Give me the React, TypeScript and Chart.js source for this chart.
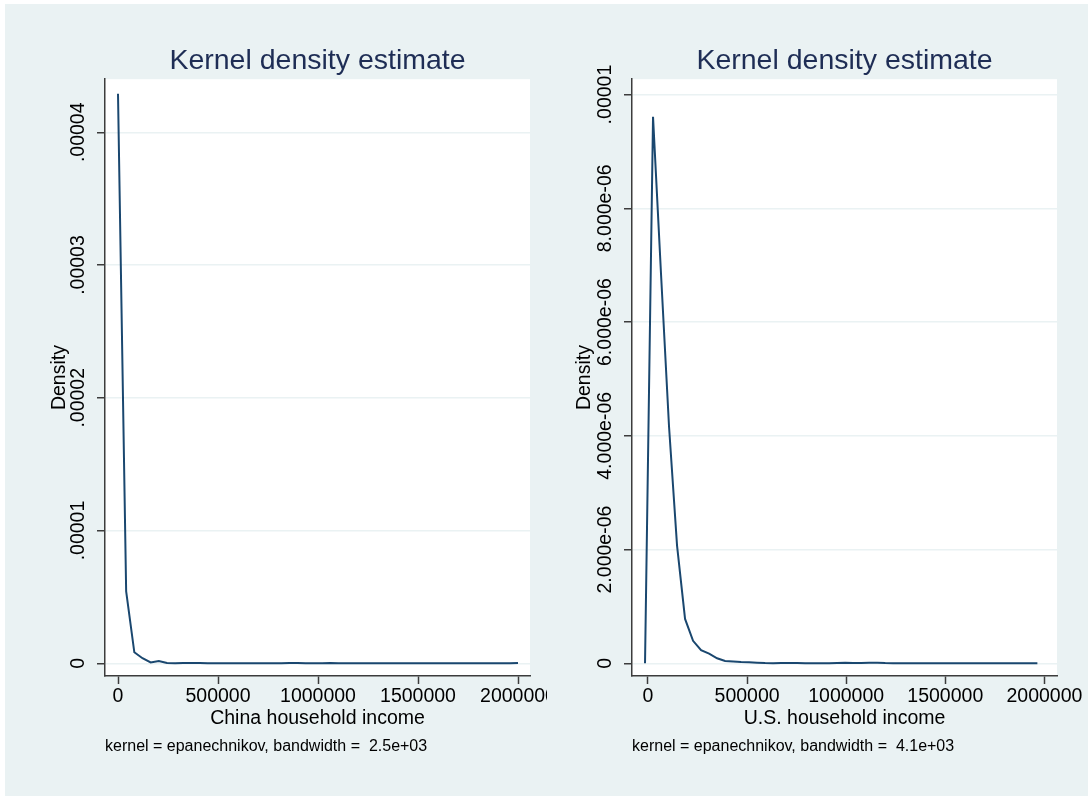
import React, { useEffect, useRef } from "react";
import { Chart, registerables } from "chart.js";

Chart.register(...registerables);

// ---------- data ----------
const chinaIncome = [
  0, 40816, 81633, 122449, 163265, 204082, 244898, 285714, 326531, 367347,
  408163, 448980, 489796, 530612, 571429, 612245, 653061, 693878, 734694, 775510,
  816327, 857143, 897959, 938776, 979592, 1020408, 1061224, 1102041, 1142857, 1183673,
  1224490, 1265306, 1306122, 1346939, 1387755, 1428571, 1469388, 1510204, 1551020, 1591837,
  1632653, 1673469, 1714286, 1755102, 1795918, 1836735, 1877551, 1918367, 1959184, 2000000,
];
const chinaDensity = [
  0.0000429, 0.00000542, 0.00000083, 0.00000038, 0.00000006, 0.00000017, 0.00000002, 0.00000001, 0.000000015, 0.00000003,
  0.00000002, 0.00000001, 0.000000008, 0.000000006, 0.000000005, 0.000000004, 0.000000004, 0.000000003, 0.000000004, 0.000000006,
  0.000000008, 0.000000015, 0.00000002, 0.00000001, 0.000000006, 0.000000008, 0.000000018, 0.00000001, 0.000000004, 0.000000003,
  0.000000002, 0.000000002, 0.000000002, 0.000000002, 0.000000002, 0.000000002, 0.000000002, 0.000000002, 0.000000002, 0.000000002,
  0.000000002, 0.000000002, 0.000000002, 0.000000002, 0.000000002, 0.000000002, 0.000000002, 0.000000002, 0.000000004, 0.00000003,
];

const usIncome = [
  -15000, 25400, 65800, 106200, 146600, 187000, 227400, 267800, 308200, 348600,
  389000, 429400, 469800, 510200, 550600, 591000, 631400, 671800, 712200, 752600,
  793000, 833400, 873800, 914200, 954600, 995000, 1035400, 1075800, 1116200, 1156600,
  1197000, 1237400, 1277800, 1318200, 1358600, 1399000, 1439400, 1479800, 1520200, 1560600,
  1601000, 1641400, 1681800, 1722200, 1762600, 1803000, 1843400, 1883800, 1924200, 1964600,
];
const usDensity = [
  0, 0.00000961, 0.00000684, 0.00000416, 0.00000207, 0.00000078, 0.000000396, 0.00000023, 0.00000017, 0.000000088,
  0.00000004, 0.00000003, 0.000000022, 0.000000018, 0.000000012, 0.000000005, 0.000000003, 0.000000004, 0.000000004, 0.000000005,
  0.000000003, 0.000000002, 0.000000002, 0.000000003, 0.000000006, 0.000000012, 0.000000006, 0.000000004, 0.000000008, 0.00000001,
  0.000000004, 0.000000002, 0.000000002, 0.000000002, 0.000000002, 0.000000002, 0.000000002, 0.000000002, 0.000000002, 0.000000002,
  0.000000002, 0.000000002, 0.000000002, 0.000000002, 0.000000002, 0.000000002, 0.000000002, 0.000000002, 0.000000002, 0.000000002,
];

const xTickValues = [0, 500000, 1000000, 1500000, 2000000];
const xTickLabels = ["0", "500000", "1000000", "1500000", "2000000"];

const chinaYTickValues = [0, 0.00001, 0.00002, 0.00003, 0.00004];
const chinaYTickLabels = ["0", ".00001", ".00002", ".00003", ".00004"];

const usYTickValues = [0, 0.000002, 0.000004, 0.000006, 0.000008, 0.00001];
const usYTickLabels = ["0", "2.000e-06", "4.000e-06", "6.000e-06", "8.000e-06", ".00001"];

const chartTitle = "Kernel density estimate";
const yTitle = "Density";
const chinaXTitle = "China household income";
const usXTitle = "U.S. household income";
const chinaNote = "kernel = epanechnikov, bandwidth =  2.5e+03";
const usNote = "kernel = epanechnikov, bandwidth =  4.1e+03";

// ---------- styles ----------
const FONT = '"Liberation Sans", Arial, Helvetica, sans-serif';
const BG = "#EAF2F3";
const NAVY = "#1A476F";
const TITLE_COLOR = "#1E2D55";
const AXIS = "#3c3c3c";
const GRID = "#EAF2F3";
const TICK_SIZE = 19.5;

const whiteArea = {
  id: "whiteArea",
  beforeDraw(chart: any) {
    const { ctx, chartArea } = chart;
    ctx.save();
    ctx.fillStyle = "#ffffff";
    ctx.fillRect(chartArea.left, chartArea.top, chartArea.right - chartArea.left, chartArea.bottom - chartArea.top);
    ctx.restore();
  },
};

function measureWidest(texts: string[], size: number) {
  const c = document.createElement("canvas").getContext("2d")!;
  c.font = `${size}px ${FONT}`;
  return Math.max(...texts.map((t) => c.measureText(t).width));
}

type Spec = {
  xs: number[];
  ys: number[];
  xMin: number;
  xMax: number;
  yMin: number;
  yMax: number;
  yTicks: number[];
  yLabels: string[];
  xTitle: string;
  note: string;
  yWidth: number;
  padRight: number;
  yLabelMiddle: number;
  yTitlePad: number;
};

function makeConfig(s: Spec): any {
  const widest = measureWidest(s.yLabels, TICK_SIZE);
  const tickLen = 8;
  const yPad = s.yWidth - tickLen - s.yLabelMiddle - widest / 2;
  const tickFont = { family: FONT, size: TICK_SIZE, weight: "normal" as const };
  return {
    type: "line",
    data: {
      datasets: [
        {
          data: s.xs.map((x, i) => ({ x, y: s.ys[i] })),
          borderColor: NAVY,
          borderWidth: 2,
          pointRadius: 0,
          tension: 0,
          fill: false,
        },
      ],
    },
    options: {
      responsive: false,
      animation: false,
      layout: { padding: { left: 0, right: s.padRight, top: 0, bottom: 39.8 }, autoPadding: false },
      plugins: {
        legend: { display: false },
        tooltip: { enabled: false },
        title: {
          display: true,
          text: chartTitle,
          color: TITLE_COLOR,
          fullSize: false,
          align: "center",
          font: { family: FONT, size: 28.5, weight: "normal" },
          padding: { top: 40.5, bottom: 0.5 },
        },
        subtitle: {
          display: true,
          text: s.note,
          position: "bottom",
          align: "start",
          fullSize: false,
          color: "#000",
          font: { family: FONT, size: 16, weight: "normal" },
          padding: { top: 0, bottom: 0 },
        },
      },
      scales: {
        x: {
          type: "linear",
          min: s.xMin,
          max: s.xMax,
          afterBuildTicks: (axis: any) => {
            axis.ticks = xTickValues.map((v) => ({ value: v }));
          },
          afterFit: (axis: any) => {
            axis.height = 61;
            axis.paddingLeft = 0;
            axis.paddingRight = 0;
            axis.paddingTop = 0;
            axis.paddingBottom = 0;
          },
          ticks: {
            autoSkip: false,
            minRotation: 0,
            maxRotation: 0,
            padding: 0.5,
            color: "#000",
            font: tickFont,
            callback: (v: number) => {
              const i = xTickValues.indexOf(v);
              return i >= 0 ? xTickLabels[i] : "";
            },
          },
          grid: {
            drawOnChartArea: false,
            drawTicks: true,
            tickLength: tickLen,
            tickColor: AXIS,
            tickWidth: 1.5,
          },
          border: { display: true, color: AXIS, width: 1.5 },
          title: {
            display: true,
            text: s.xTitle,
            color: "#000",
            font: tickFont,
            padding: { top: 0, bottom: 6.7 },
          },
        },
        y: {
          type: "linear",
          min: s.yMin,
          max: s.yMax,
          afterBuildTicks: (axis: any) => {
            axis.ticks = s.yTicks.map((v) => ({ value: v }));
          },
          afterFit: (axis: any) => {
            axis.width = s.yWidth;
            axis.paddingLeft = 0;
            axis.paddingRight = 0;
            axis.paddingTop = 0;
            axis.paddingBottom = 0;
          },
          ticks: {
            autoSkip: false,
            minRotation: 90,
            maxRotation: 90,
            crossAlign: "center",
            padding: yPad,
            color: "#000",
            font: tickFont,
            callback: (v: number) => {
              const i = s.yTicks.indexOf(v);
              return i >= 0 ? s.yLabels[i] : "";
            },
          },
          grid: {
            color: GRID,
            lineWidth: 1.5,
            drawTicks: true,
            tickLength: tickLen,
            tickColor: AXIS,
            tickWidth: 1.5,
          },
          border: { display: true, color: AXIS, width: 1.5 },
          title: {
            display: true,
            text: yTitle,
            color: "#000",
            font: tickFont,
            padding: { top: s.yTitlePad, bottom: 0 },
          },
        },
      },
    },
    plugins: [whiteArea],
  };
}

export default function App() {
  const leftRef = useRef<HTMLCanvasElement>(null);
  const rightRef = useRef<HTMLCanvasElement>(null);

  useEffect(() => {
    const left = new Chart(
      leftRef.current!,
      makeConfig({
        xs: chinaIncome,
        ys: chinaDensity,
        xMin: -65000,
        xMax: 2060000,
        yMin: -0.000000957,
        yMax: 0.0000440,
        yTicks: chinaYTickValues,
        yLabels: chinaYTickLabels,
        xTitle: chinaXTitle,
        note: chinaNote,
        yWidth: 100,
        padRight: 17,
        yLabelMiddle: 73.2,
        yTitlePad: 42.5,
      })
    );
    const right = new Chart(
      rightRef.current!,
      makeConfig({
        xs: usIncome,
        ys: usDensity,
        xMin: -80700,
        xMax: 2063600,
        yMin: -0.000000223,
        yMax: 0.00001027,
        yTicks: usYTickValues,
        yLabels: usYTickLabels,
        xTitle: usXTitle,
        note: usNote,
        yWidth: 85,
        padRight: 31,
        yLabelMiddle: 58.7,
        yTitlePad: 25.5,
      })
    );
    return () => {
      left.destroy();
      right.destroy();
    };
  }, []);

  return (
    <div style={{ position: "absolute", left: 0, top: 0, width: 1088, height: 796, background: "#ffffff", overflow: "hidden" }}>
      <div style={{ position: "absolute", left: 5, top: 4, width: 1083, height: 792, background: BG }}>
        <canvas ref={leftRef} width={542} height={792} style={{ position: "absolute", left: 0, top: 0, width: 542, height: 792 }} />
        <canvas ref={rightRef} width={541} height={792} style={{ position: "absolute", left: 542, top: 0, width: 541, height: 792 }} />
      </div>
    </div>
  );
}
